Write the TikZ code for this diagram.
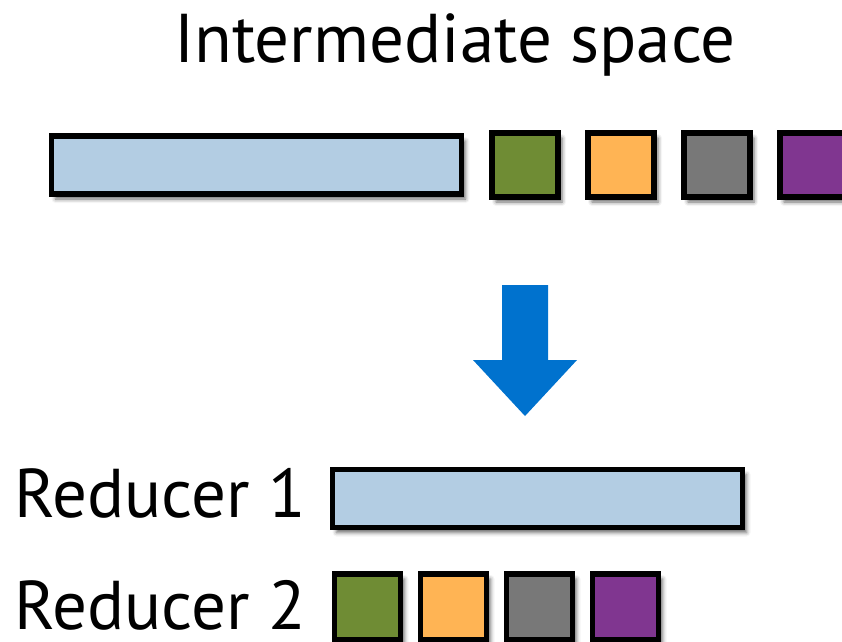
\documentclass[tikz,border=0pt]{standalone}
\usepackage{fontspec}
\setmainfont{PT Sans}
\usetikzlibrary{positioning,shadows.blur}

\definecolor{barblue}{RGB}{179,205,227}
\definecolor{kgreen}{RGB}{111,140,52}
\definecolor{korange}{RGB}{255,180,84}
\definecolor{kgray}{RGB}{120,120,120}
\definecolor{kpurple}{RGB}{128,54,144}
\definecolor{arrowblue}{RGB}{0,114,206}

\tikzset{
	block/.style={draw=black,line width=5.5pt,inner sep=0pt,
		blur shadow={shadow xshift=4pt,shadow yshift=-5pt,shadow blur radius=4pt,shadow opacity=60}},
	bar/.style={block,fill=barblue,minimum width=410pt,minimum height=58pt},
	cell/.style={block,minimum width=66pt,minimum height=64pt},
	tag/.style={inner sep=0pt,font=\fontsize{69}{72}\selectfont}
}

\begin{document}
\begin{tikzpicture}[x=1pt,y=-1pt]
	\useasboundingbox (0,0) rectangle (842,641);
	% the intermediate space
	\node[tag,anchor=base] (title) at (455,62) {Intermediate space};
	\node[bar] (topbar) at (256.5,165) {};
	\foreach \c [count=\i] in {kgreen,korange,kgray,kpurple}
		\node[cell,fill=\c] (top\i) at ({525+96*(\i-1)},165) {};
	%% the arrow
	\fill[arrowblue] (502,285) -- (548,285) -- (548,360) -- (577,360)
		-- (525,416) -- (473,360) -- (502,360) -- cycle;
	%% the reducers
	\node[bar] (redbar) at (537.5,498.5) {};
	\node[tag,anchor=base east] (red1) at (306,517) {Reducer 1};
	\foreach \c [count=\i] in {kgreen,korange,kgray,kpurple}
		\node[cell,fill=\c,minimum width=66pt,minimum height=66pt] (bot\i) at ({367.5+86*(\i-1)},607) {};
	\node[tag,anchor=base east] (red2) at (306,629) {Reducer 2};
\end{tikzpicture}
\end{document}
